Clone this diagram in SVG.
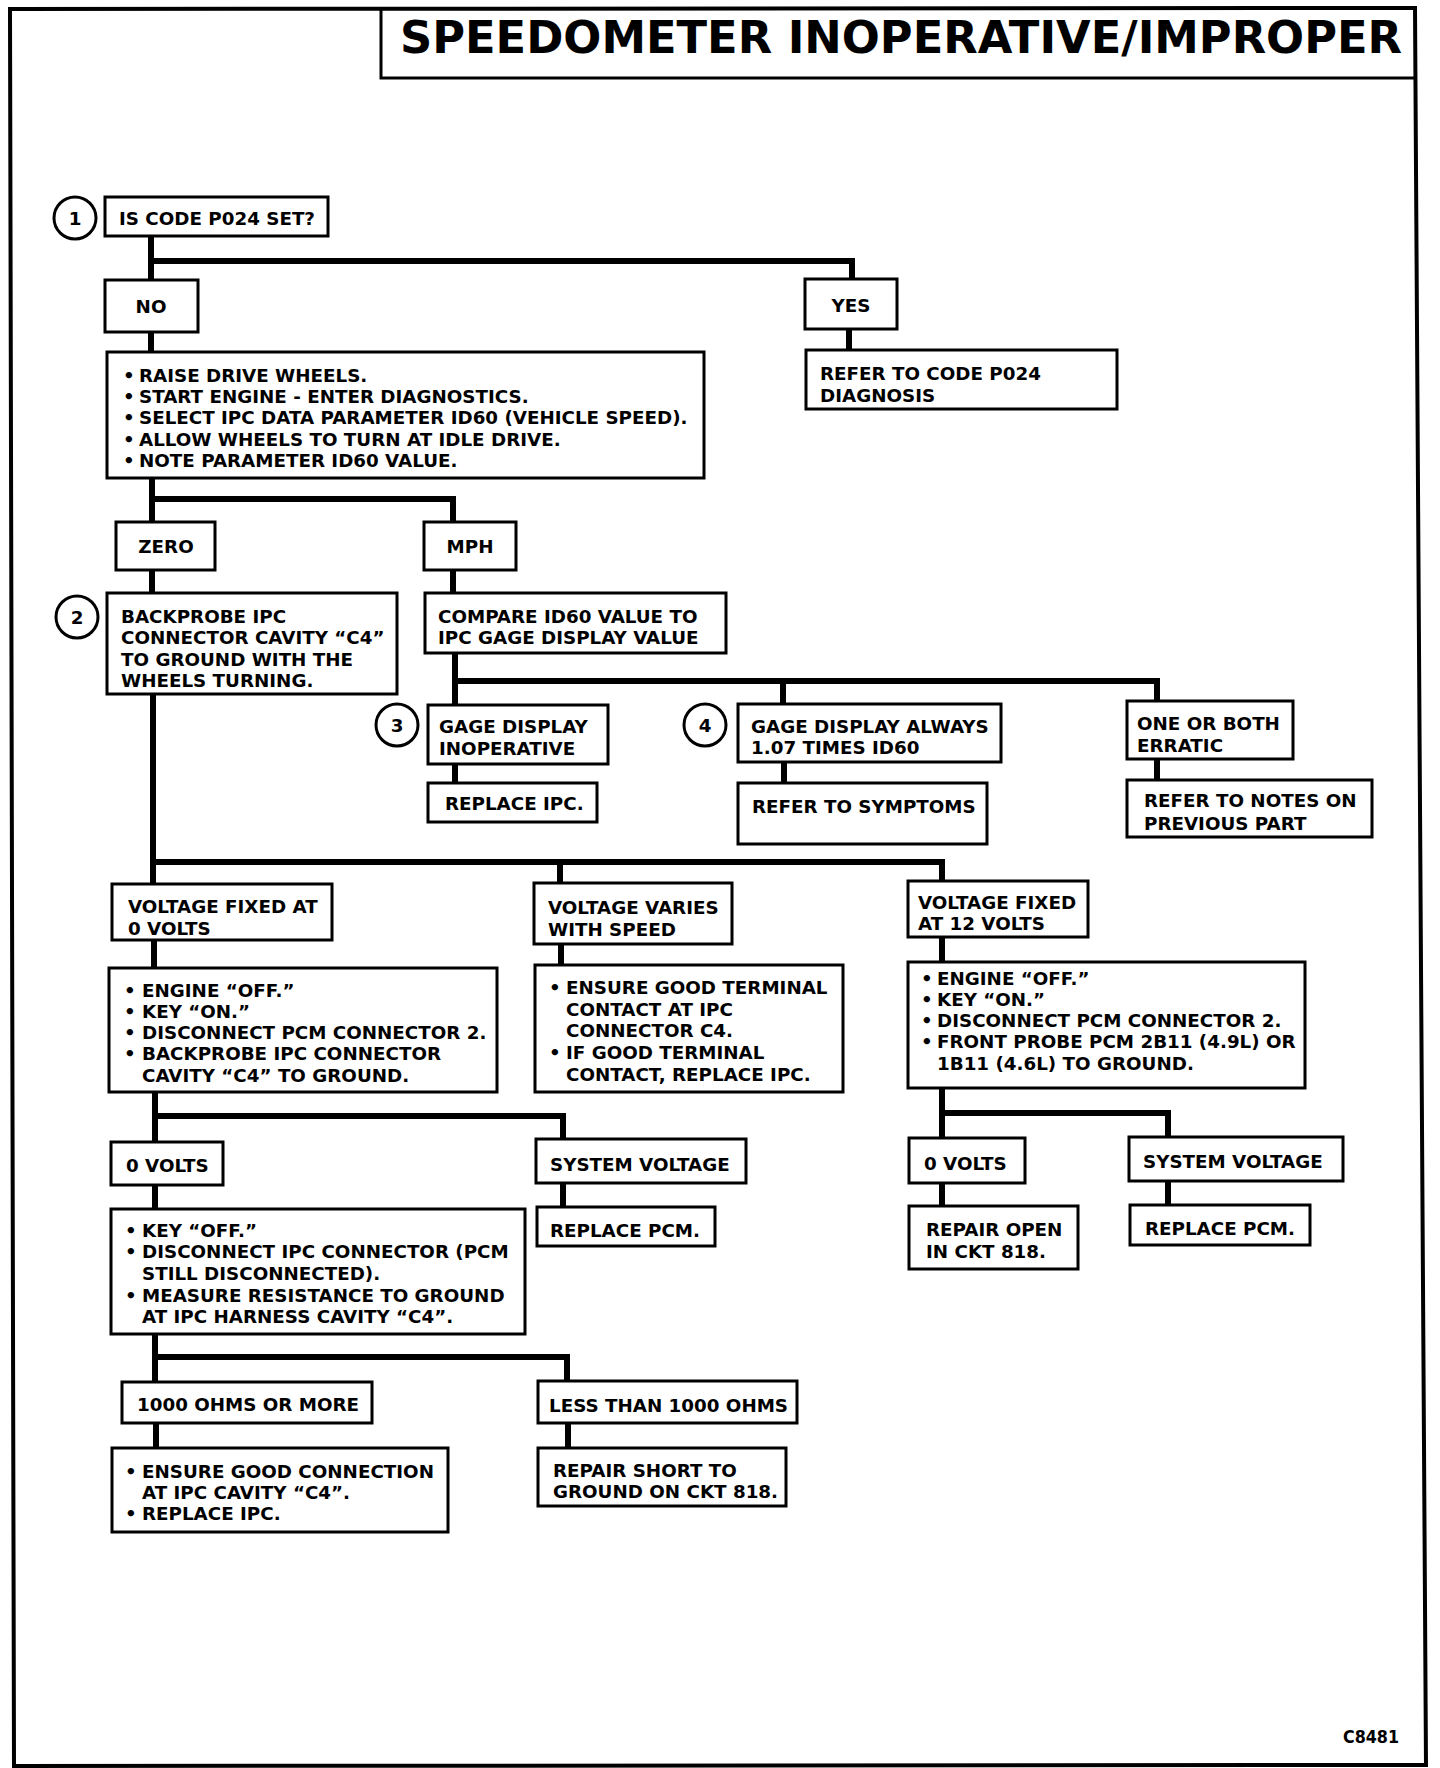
<svg xmlns="http://www.w3.org/2000/svg" width="1440" height="1768" viewBox="0 0 1440 1768">
<style>
.bx{fill:#fff;stroke:#000;stroke-width:3}
.ci{fill:#fff;stroke:#000;stroke-width:3}
.t{font-family:"DejaVu Sans","Liberation Sans",sans-serif;font-weight:bold;font-size:18.3px;fill:#000}
.m{text-anchor:middle}
.cn{fill:none;stroke:#000;stroke-width:6;stroke-linecap:square}
.fr{fill:none;stroke:#000;stroke-width:4}
</style>
<rect x="0" y="0" width="1440" height="1768" fill="#fff"/>
<g id="frame">
<path class="fr" d="M10,9 L1415,8 L1426,1765 L14,1766 Z"/>
<path fill="none" stroke="#000" stroke-width="3" d="M381,8 V78 H1417"/>
<text x="400" y="53" font-family="DejaVu Sans, Liberation Sans, sans-serif" font-weight="bold" font-size="44" textLength="1002" lengthAdjust="spacingAndGlyphs">SPEEDOMETER INOPERATIVE/IMPROPER</text>
</g>
<g id="connectors">
<path class="cn" d="M151,236 V280 M151,261 H852 V279"/>
<path class="cn" d="M151,332 V352"/>
<path class="cn" d="M849,329 V350"/>
<path class="cn" d="M152,478 V522 M152,499 H453 V522"/>
<path class="cn" d="M152,570 V593"/>
<path class="cn" d="M453,570 V593"/>
<path class="cn" d="M455,653 V705 M455,681 H1157 V701 M783,681 V704"/>
<path class="cn" d="M455,764 V783"/>
<path class="cn" d="M784,762 V783"/>
<path class="cn" d="M1157,759 V780"/>
<path class="cn" d="M153,694 V884 M153,862 H942 V881 M560,862 V883"/>
<path class="cn" d="M154,940 V968"/>
<path class="cn" d="M561,944 V965"/>
<path class="cn" d="M942,937 V962"/>
<path class="cn" d="M155,1092 V1142 M155,1116 H563 V1139"/>
<path class="cn" d="M155,1185 V1209"/>
<path class="cn" d="M563,1183 V1207"/>
<path class="cn" d="M942,1088 V1138 M942,1113 H1168 V1137"/>
<path class="cn" d="M942,1183 V1206"/>
<path class="cn" d="M1168,1181 V1205"/>
<path class="cn" d="M155,1334 V1382 M155,1357 H567 V1381"/>
<path class="cn" d="M156,1423 V1448"/>
<path class="cn" d="M568,1423 V1448"/>
</g>
<g id="step1">
<circle class="ci" cx="75" cy="218" r="21"/>
<text class="t m" x="75" y="225">1</text>
</g>
<g id="n_p024">
<rect class="bx" x="105" y="197" width="223" height="39"/>
<text class="t" x="119" y="225">IS CODE P024 SET?</text>
</g>
<g id="n_no">
<rect class="bx" x="105" y="280" width="93" height="52"/>
<text class="t m" x="151" y="313">NO</text>
</g>
<g id="n_yes">
<rect class="bx" x="805" y="279" width="92" height="50"/>
<text class="t m" x="851" y="312">YES</text>
</g>
<g id="n_refer024">
<rect class="bx" x="806" y="350" width="311" height="59"/>
<text class="t" x="820" y="380">REFER TO CODE P024</text>
<text class="t" x="820" y="402">DIAGNOSIS</text>
</g>
<g id="n_raise">
<rect class="bx" x="107" y="352" width="597" height="126"/>
<text class="t"><tspan x="123" y="382">•</tspan><tspan x="139" y="382">RAISE DRIVE WHEELS.</tspan></text>
<text class="t"><tspan x="123" y="403">•</tspan><tspan x="139" y="403">START ENGINE - ENTER DIAGNOSTICS.</tspan></text>
<text class="t"><tspan x="123" y="424">•</tspan><tspan x="139" y="424">SELECT IPC DATA PARAMETER ID60 (VEHICLE SPEED).</tspan></text>
<text class="t"><tspan x="123" y="446">•</tspan><tspan x="139" y="446">ALLOW WHEELS TO TURN AT IDLE DRIVE.</tspan></text>
<text class="t"><tspan x="123" y="467">•</tspan><tspan x="139" y="467">NOTE PARAMETER ID60 VALUE.</tspan></text>
</g>
<g id="n_zero">
<rect class="bx" x="116" y="522" width="99" height="48"/>
<text class="t m" x="166" y="553">ZERO</text>
</g>
<g id="n_mph">
<rect class="bx" x="424" y="522" width="92" height="48"/>
<text class="t m" x="470" y="553">MPH</text>
</g>
<g id="step2">
<circle class="ci" cx="77" cy="617" r="21"/>
<text class="t m" x="77" y="624">2</text>
</g>
<g id="n_backprobe">
<rect class="bx" x="107" y="593" width="290" height="101"/>
<text class="t" x="121" y="623">BACKPROBE IPC</text>
<text class="t" x="121" y="644">CONNECTOR CAVITY “C4”</text>
<text class="t" x="121" y="666">TO GROUND WITH THE</text>
<text class="t" x="121" y="687">WHEELS TURNING.</text>
</g>
<g id="n_compare">
<rect class="bx" x="425" y="593" width="301" height="60"/>
<text class="t" x="438" y="623">COMPARE ID60 VALUE TO</text>
<text class="t" x="438" y="644">IPC GAGE DISPLAY VALUE</text>
</g>
<g id="step3">
<circle class="ci" cx="397" cy="725" r="21"/>
<text class="t m" x="397" y="732">3</text>
</g>
<g id="n_inop">
<rect class="bx" x="428" y="705" width="180" height="59"/>
<text class="t" x="439" y="733">GAGE DISPLAY</text>
<text class="t" x="439" y="755">INOPERATIVE</text>
</g>
<g id="n_replipc">
<rect class="bx" x="428" y="783" width="169" height="39"/>
<text class="t" x="445" y="810">REPLACE IPC.</text>
</g>
<g id="step4">
<circle class="ci" cx="705" cy="725" r="21"/>
<text class="t m" x="705" y="732">4</text>
</g>
<g id="n_always">
<rect class="bx" x="738" y="704" width="263" height="58"/>
<text class="t" x="751" y="733">GAGE DISPLAY ALWAYS</text>
<text class="t" x="751" y="754">1.07 TIMES ID60</text>
</g>
<g id="n_symptoms">
<rect class="bx" x="738" y="783" width="249" height="61"/>
<text class="t" x="752" y="813">REFER TO SYMPTOMS</text>
</g>
<g id="n_erratic">
<rect class="bx" x="1127" y="701" width="166" height="58"/>
<text class="t" x="1137" y="730">ONE OR BOTH</text>
<text class="t" x="1137" y="752">ERRATIC</text>
</g>
<g id="n_notes">
<rect class="bx" x="1127" y="780" width="245" height="57"/>
<text class="t" x="1144" y="807">REFER TO NOTES ON</text>
<text class="t" x="1144" y="830">PREVIOUS PART</text>
</g>
<g id="n_v0">
<rect class="bx" x="112" y="884" width="220" height="56"/>
<text class="t" x="128" y="913">VOLTAGE FIXED AT</text>
<text class="t" x="128" y="935">0 VOLTS</text>
</g>
<g id="n_vvar">
<rect class="bx" x="534" y="883" width="198" height="61"/>
<text class="t" x="548" y="914">VOLTAGE VARIES</text>
<text class="t" x="548" y="936">WITH SPEED</text>
</g>
<g id="n_v12">
<rect class="bx" x="908" y="881" width="180" height="56"/>
<text class="t" x="918" y="909">VOLTAGE FIXED</text>
<text class="t" x="918" y="930">AT 12 VOLTS</text>
</g>
<g id="n_eng0">
<rect class="bx" x="109" y="968" width="388" height="124"/>
<text class="t"><tspan x="124" y="997">•</tspan><tspan x="142" y="997">ENGINE “OFF.”</tspan></text>
<text class="t"><tspan x="124" y="1018">•</tspan><tspan x="142" y="1018">KEY “ON.”</tspan></text>
<text class="t"><tspan x="124" y="1039">•</tspan><tspan x="142" y="1039">DISCONNECT PCM CONNECTOR 2.</tspan></text>
<text class="t"><tspan x="124" y="1060">•</tspan><tspan x="142" y="1060">BACKPROBE IPC CONNECTOR</tspan></text>
<text class="t" x="142" y="1082">CAVITY “C4” TO GROUND.</text>
</g>
<g id="n_ensure_term">
<rect class="bx" x="535" y="965" width="308" height="127"/>
<text class="t"><tspan x="549" y="994">•</tspan><tspan x="566" y="994">ENSURE GOOD TERMINAL</tspan></text>
<text class="t" x="566" y="1016">CONTACT AT IPC</text>
<text class="t" x="566" y="1037">CONNECTOR C4.</text>
<text class="t"><tspan x="549" y="1059">•</tspan><tspan x="566" y="1059">IF GOOD TERMINAL</tspan></text>
<text class="t" x="566" y="1081">CONTACT, REPLACE IPC.</text>
</g>
<g id="n_eng12">
<rect class="bx" x="908" y="962" width="397" height="126"/>
<text class="t"><tspan x="921" y="985">•</tspan><tspan x="937" y="985">ENGINE “OFF.”</tspan></text>
<text class="t"><tspan x="921" y="1006">•</tspan><tspan x="937" y="1006">KEY “ON.”</tspan></text>
<text class="t"><tspan x="921" y="1027">•</tspan><tspan x="937" y="1027">DISCONNECT PCM CONNECTOR 2.</tspan></text>
<text class="t"><tspan x="921" y="1048">•</tspan><tspan x="937" y="1048">FRONT PROBE PCM 2B11 (4.9L) OR</tspan></text>
<text class="t" x="937" y="1070">1B11 (4.6L) TO GROUND.</text>
</g>
<g id="n_0v_a">
<rect class="bx" x="111" y="1142" width="112" height="43"/>
<text class="t" x="126" y="1172">0 VOLTS</text>
</g>
<g id="n_sysv_a">
<rect class="bx" x="536" y="1139" width="210" height="44"/>
<text class="t" x="550" y="1171">SYSTEM VOLTAGE</text>
</g>
<g id="n_replpcm_a">
<rect class="bx" x="537" y="1207" width="178" height="39"/>
<text class="t" x="550" y="1237">REPLACE PCM.</text>
</g>
<g id="n_0v_b">
<rect class="bx" x="909" y="1138" width="116" height="45"/>
<text class="t" x="924" y="1170">0 VOLTS</text>
</g>
<g id="n_sysv_b">
<rect class="bx" x="1129" y="1137" width="214" height="44"/>
<text class="t" x="1143" y="1168">SYSTEM VOLTAGE</text>
</g>
<g id="n_repopen">
<rect class="bx" x="909" y="1206" width="169" height="63"/>
<text class="t" x="926" y="1236">REPAIR OPEN</text>
<text class="t" x="926" y="1258">IN CKT 818.</text>
</g>
<g id="n_replpcm_b">
<rect class="bx" x="1130" y="1205" width="180" height="40"/>
<text class="t" x="1145" y="1235">REPLACE PCM.</text>
</g>
<g id="n_keyoff">
<rect class="bx" x="111" y="1209" width="414" height="125"/>
<text class="t"><tspan x="125" y="1237">•</tspan><tspan x="142" y="1237">KEY “OFF.”</tspan></text>
<text class="t"><tspan x="125" y="1258">•</tspan><tspan x="142" y="1258">DISCONNECT IPC CONNECTOR (PCM</tspan></text>
<text class="t" x="142" y="1280">STILL DISCONNECTED).</text>
<text class="t"><tspan x="125" y="1302">•</tspan><tspan x="142" y="1302">MEASURE RESISTANCE TO GROUND</tspan></text>
<text class="t" x="142" y="1323">AT IPC HARNESS CAVITY “C4”.</text>
</g>
<g id="n_1000more">
<rect class="bx" x="122" y="1382" width="250" height="41"/>
<text class="t" x="137" y="1411">1000 OHMS OR MORE</text>
</g>
<g id="n_less">
<rect class="bx" x="538" y="1381" width="259" height="42"/>
<text class="t" x="549" y="1412">LESS THAN 1000 OHMS</text>
</g>
<g id="n_ensconn">
<rect class="bx" x="112" y="1448" width="336" height="84"/>
<text class="t"><tspan x="125" y="1478">•</tspan><tspan x="142" y="1478">ENSURE GOOD CONNECTION</tspan></text>
<text class="t" x="142" y="1499">AT IPC CAVITY “C4”.</text>
<text class="t"><tspan x="125" y="1520">•</tspan><tspan x="142" y="1520">REPLACE IPC.</tspan></text>
</g>
<g id="n_short">
<rect class="bx" x="538" y="1448" width="248" height="58"/>
<text class="t" x="553" y="1477">REPAIR SHORT TO</text>
<text class="t" x="553" y="1498">GROUND ON CKT 818.</text>
</g>
<g id="figno">
<text class="t" x="1399" y="1743" text-anchor="end" textLength="56" lengthAdjust="spacingAndGlyphs">C8481</text>
</g>
</svg>
